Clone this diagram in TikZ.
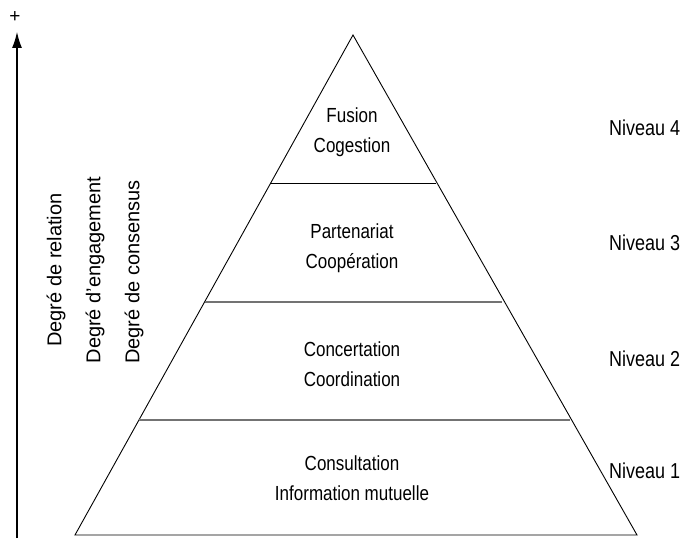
\documentclass[tikz,border=0pt]{standalone}
\usepackage{fontspec}
\usepackage{graphicx}
\setmainfont{Liberation Sans}
\usetikzlibrary{arrows.meta}

\newcommand{\haut}[1]{\scalebox{1}[1.2]{#1}}

\begin{document}
\begin{tikzpicture}[x=1pt,y=-1pt,
	lbl/.style={font=\fontsize{17}{30}\selectfont, align=center, inner sep=0pt},
	lvl/.style={lbl, font=\fontsize{18}{22}\selectfont, anchor=west},
	axe/.style={lbl, font=\fontsize{20}{24}\selectfont, rotate=90},
	sep/.style={draw=black!55, line width=1.8pt}]
	\useasboundingbox (0,0) rectangle (681,543);
	%\draw[help lines] (0,0) grid[step=50] (681,543);
	\coordinate (top) at (353,35);
	\coordinate (bl) at (75,535);
	\coordinate (br) at (637,535);
	\coordinate (a1) at (271,183);
	\coordinate (a2) at (436,183);
	\coordinate (b1) at (205,302);
	\coordinate (b2) at (502,302);
	\coordinate (c1) at (139,420);
	\coordinate (c2) at (570,420);
	\coordinate (arrbas) at (17,538);
	\coordinate (arrhaut) at (17,32);
	\draw[line width=0.9pt] (top)--(br)--(bl)--cycle;
	\draw[line width=1pt] (a1)--(a2);
	\draw[sep] (b1)--(b2);
	\draw[sep] (c1)--(c2);
	\draw[line width=1.2pt, -{Latex[length=16pt,width=10pt]}] (arrbas)--(arrhaut);
	\node[lbl, font=\fontsize{19}{20}\selectfont] (plus) at (15,17) {+};
	\node[axe] (rel) at (56,270) {Degré de relation};
	\node[axe] (eng) at (95,270) {Degré d’engagement};
	\node[axe] (cons) at (134,272) {Degré de consensus};
	\node[lbl] (n4) at (352,132) {\haut{Fusion}\\\haut{Cogestion}};
	\node[lbl] (n3) at (352,248) {\haut{Partenariat}\\\haut{Coopération}};
	\node[lbl] (n2) at (352,364) {\haut{Concertation}\\\haut{Coordination}};
	\node[lbl] (n1) at (352,478) {\haut{Consultation}\\\haut{Information mutuelle}};
	\node[lvl] (niv4) at (609,128) {\haut{Niveau 4}};
	\node[lvl] (niv3) at (609,243) {\haut{Niveau 3}};
	\node[lvl] (niv2) at (609,359) {\haut{Niveau 2}};
	\node[lvl] (niv1) at (609,471) {\haut{Niveau 1}};
\end{tikzpicture}
\end{document}
